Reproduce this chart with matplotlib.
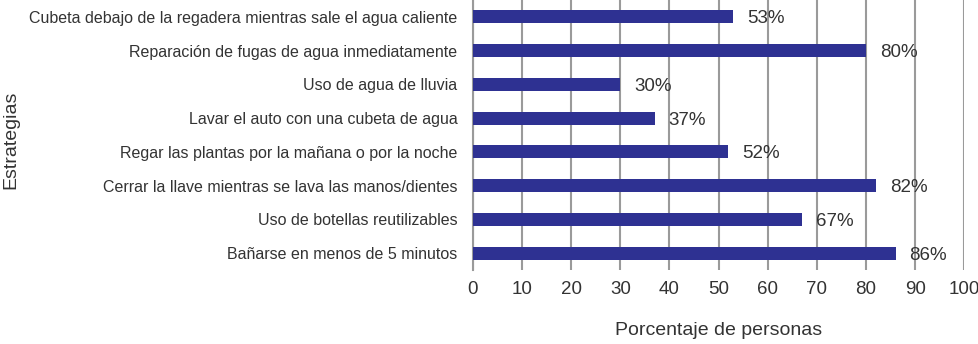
import matplotlib
matplotlib.use("Agg")
import matplotlib.pyplot as plt

# data, top to bottom as shown in the chart
strategies = [
    "Cubeta debajo de la regadera mientras sale el agua caliente",
    "Reparación de fugas de agua inmediatamente",
    "Uso de agua de lluvia",
    "Lavar el auto con una cubeta de agua",
    "Regar las plantas por la mañana o por la noche",
    "Cerrar la llave mientras se lava las manos/dientes",
    "Uso de botellas reutilizables",
    "Bañarse en menos de 5 minutos",
]
percentages = [53, 80, 30, 37, 52, 82, 67, 86]
x_ticks = [0, 10, 20, 30, 40, 50, 60, 70, 80, 90, 100]

plt.rcParams["font.family"] = ["Liberation Sans", "DejaVu Sans"]
text_color = "#333333"
bar_color = "#2e3192"
grid_color = "#9a9a9a"

fig = plt.figure(figsize=(9.79, 3.44), dpi=100)
ax = fig.add_axes([0.483, 0.215, 0.502, 0.785])

ypos = list(range(len(strategies)))
ax.barh(ypos, percentages, height=0.39, color=bar_color, zorder=3)

for y, v in zip(ypos, percentages):
    ax.annotate(f"{v}%", xy=(v, y), xytext=(10, -1.5), textcoords="offset points",
                va="center", ha="left", fontsize=13.5, color=text_color, zorder=4)

ax.set_ylim(len(strategies) - 0.5, -0.5)
ax.set_xlim(0, 100)
ax.set_yticks(ypos)
ax.set_yticklabels(strategies, fontsize=11.5, color=text_color)
ax.set_xticks(x_ticks)
ax.set_xticklabels([str(t) for t in x_ticks], fontsize=13.5, color=text_color)
ax.tick_params(axis="y", length=0, pad=11)
ax.tick_params(axis="x", length=0, pad=8)

ax.grid(axis="x", color=grid_color, linewidth=1.5, zorder=1)
for s in ["top", "right", "bottom"]:
    ax.spines[s].set_visible(False)
ax.spines["left"].set_color(grid_color)
ax.spines["left"].set_linewidth(1.5)

ax.set_xlabel("Porcentaje de personas", fontsize=14, color=text_color, labelpad=17)
fig.text(0.011, 0.595, "Estrategias", rotation=90, fontsize=14, color=text_color,
         ha="center", va="center")

fig.savefig("out.png", dpi=100)
